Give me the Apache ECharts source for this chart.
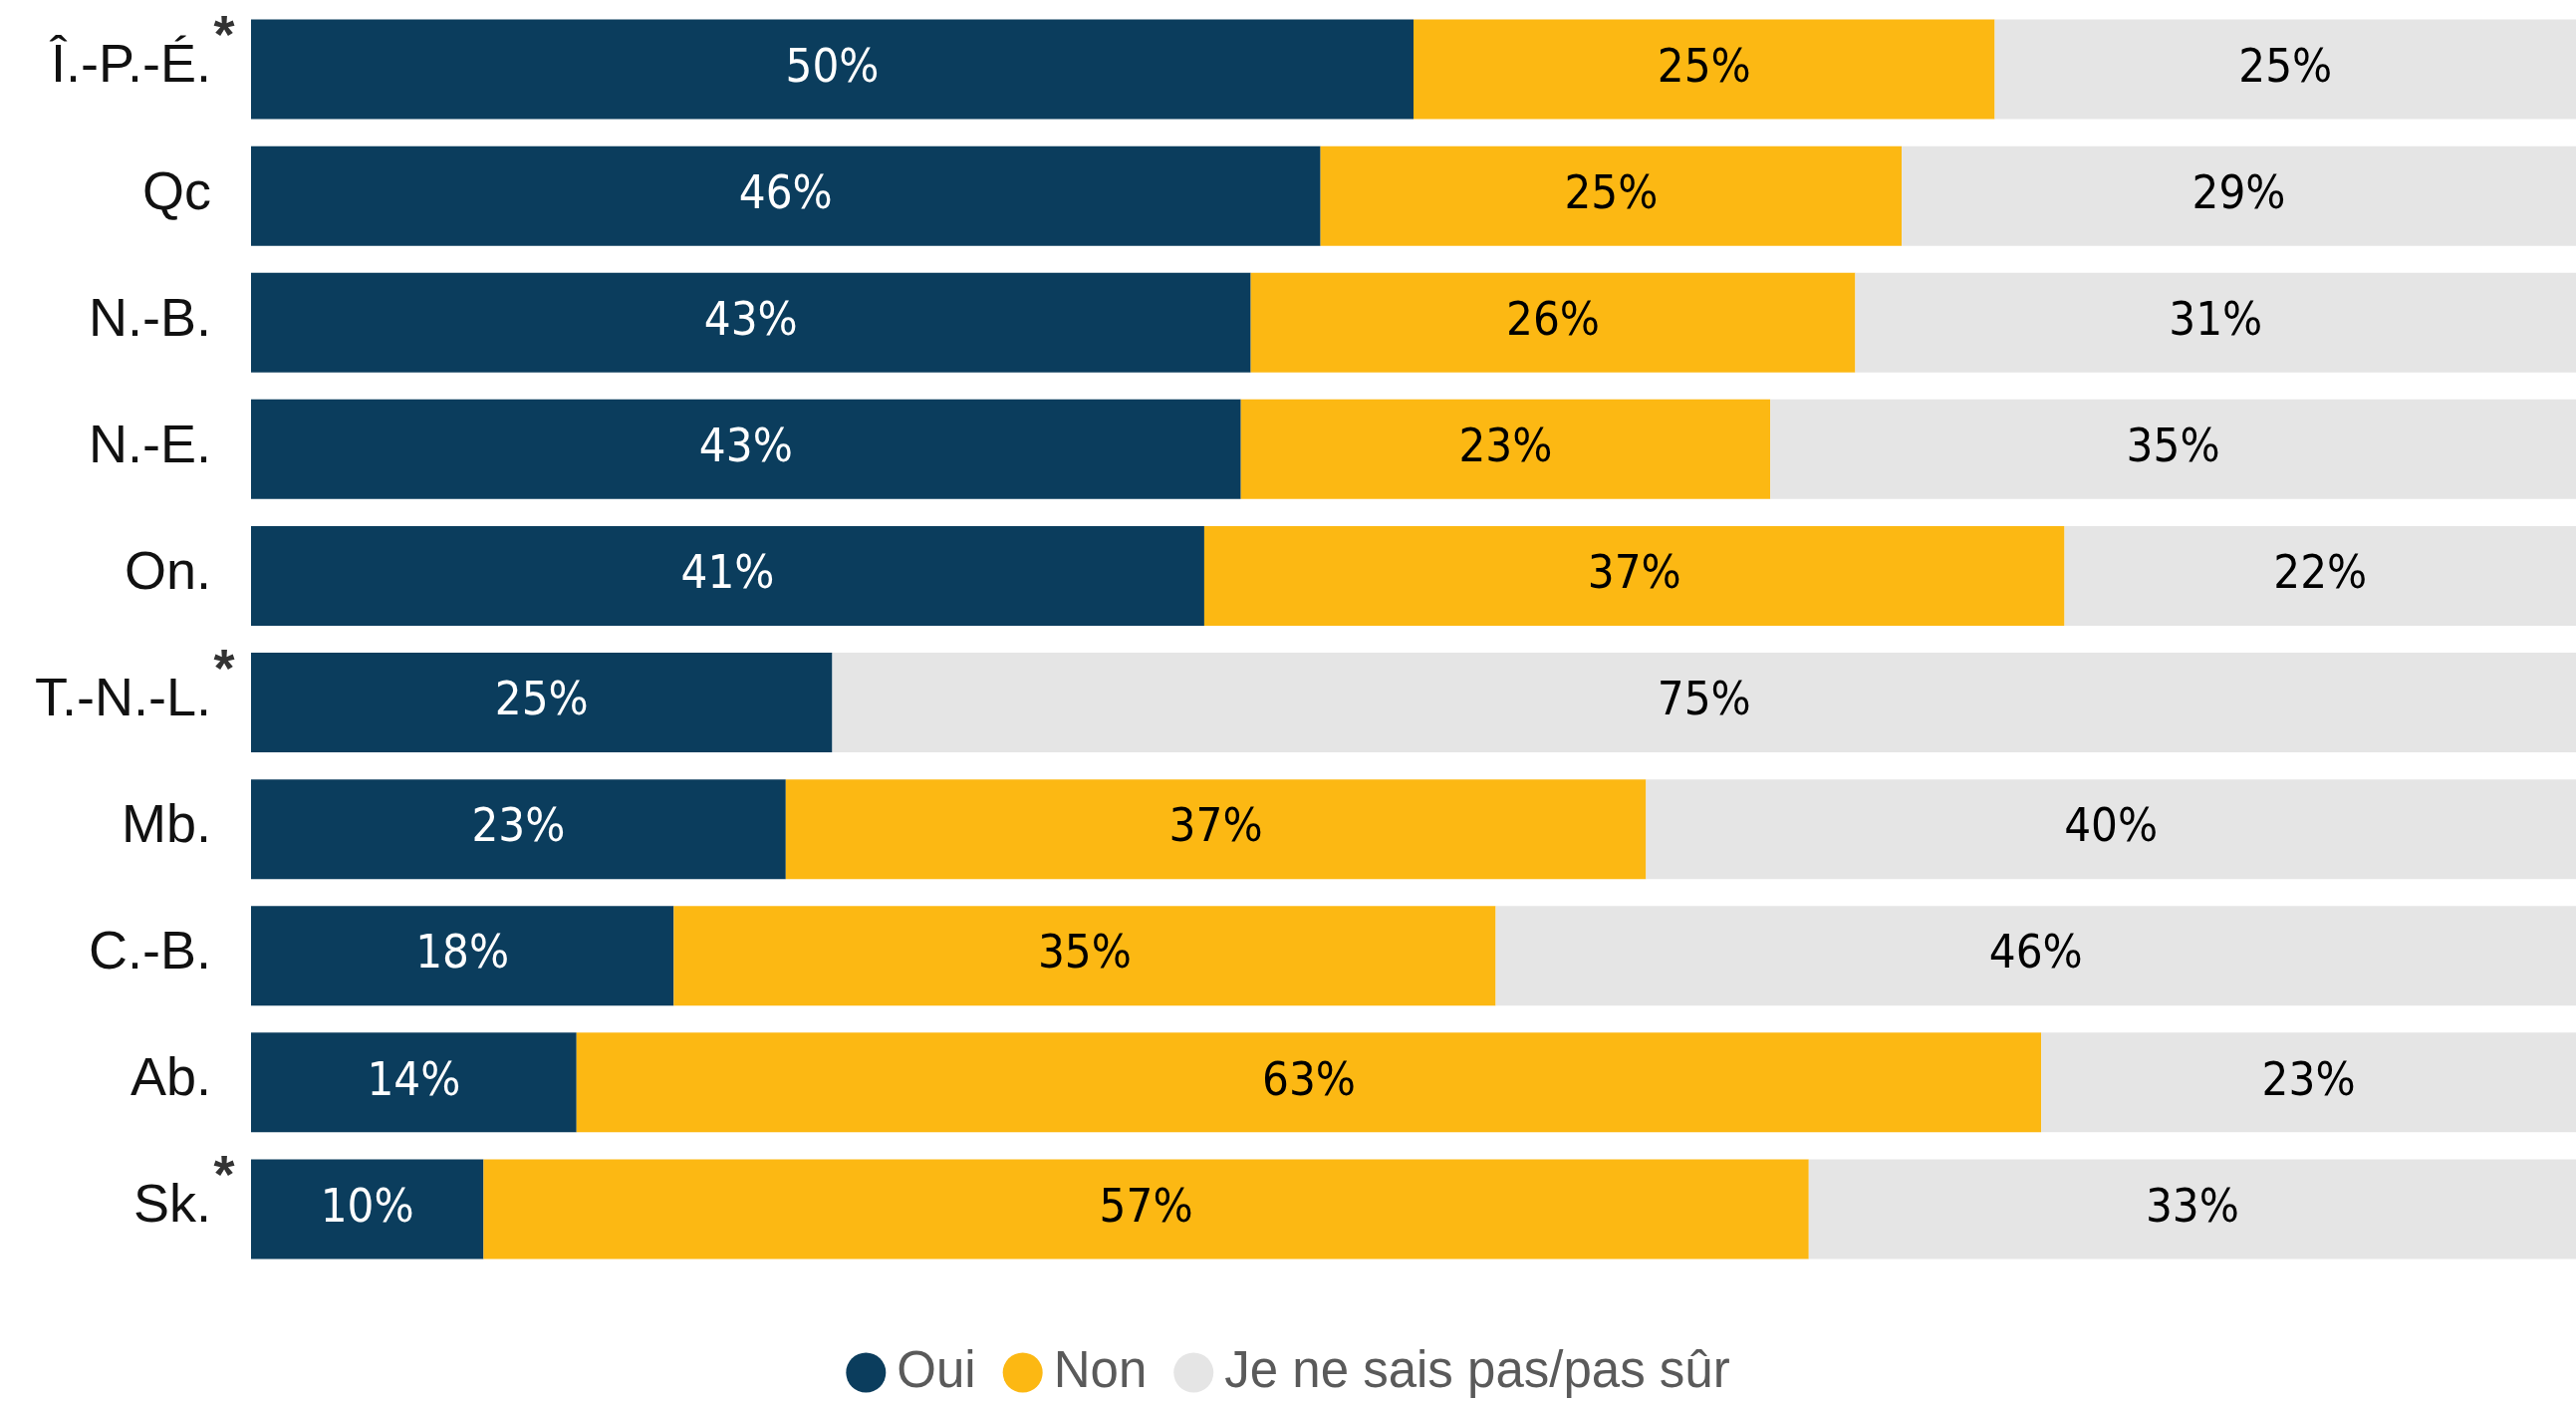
<!DOCTYPE html>
<html>
<head>
<meta charset="utf-8">
<script src="https://cdn.jsdelivr.net/npm/echarts@6/dist/echarts.min.js"></script>
<style>
  html, body { margin: 0; padding: 0; background: #fff; }
  #chart { width: 2586px; height: 1407px; }
</style>
</head>
<body>
<div id="chart"></div>
<script>
// provinces, top to bottom (* = small sample)
const provinces = ['Î.-P.-É.*', 'Qc', 'N.-B.', 'N.-E.', 'On.', 'T.-N.-L.*', 'Mb.', 'C.-B.', 'Ab.', 'Sk.*']
const oui = [50, 46, 43, 43, 41, 25, 23, 18, 14, 10]
const non = [25, 25, 26, 23, 37, 0, 37, 35, 63, 57]
const nsp = [25, 29, 31, 35, 22, 75, 40, 46, 23, 33]
const seriesNames = ['Oui', 'Non', 'Je ne sais pas/pas sûr']
const colors = ['#0b3d5d', '#fcb813', '#e5e5e5']

const chart = echarts.init(document.getElementById('chart'))

// 100% empilé : chaque ligne ramenée à son total
const totals = oui.map((v, i) => v + non[i] + nsp[i])
const makeSeries = (name, values, color, labelColor) => ({
  name: name,
  type: 'bar',
  stack: 'total',
  barWidth: 100,
  data: values.map((v, i) => ({ value: v / totals[i] * 100, raw: v })),
  itemStyle: { color: color },
  label: {
    show: true,
    position: 'inside',
    color: labelColor,
    fontFamily: '"Liberation Sans Narrow", "DejaVu Sans Condensed", sans-serif',
    fontSize: 47,
    formatter: (p) => (p.data.raw ? p.data.raw + '%' : '')
  },
  emphasis: { disabled: true }
})

const option = {
  animation: false,
  color: colors,
  legend: {
    left: 'center',
    top: 1347,
    icon: 'circle',
    itemWidth: 40,
    itemHeight: 40,
    itemGap: 27,
    textStyle: {
      fontFamily: '"Liberation Sans", Arial, sans-serif',
      fontSize: 51,
      color: '#5a5a5a',
      padding: [0, 0, 0, 6]
    },
    data: seriesNames
  },
  grid: {
    left: 252,
    right: 0,
    top: 6,
    bottom: 130
  },
  xAxis: {
    type: 'value',
    min: 0,
    max: 100,
    show: false
  },
  yAxis: {
    type: 'category',
    inverse: true,
    data: provinces,
    axisLine: { show: false },
    axisTick: { show: false },
    axisLabel: {
      interval: 0,
      margin: 14,
      formatter: (name) => {
        const star = name.endsWith('*')
        const base = star ? name.slice(0, -1) : name
        return '{n|' + base + '}{s|' + (star ? '*' : ' ') + '}'
      },
      rich: {
        n: {
          fontFamily: '"Liberation Sans", Arial, sans-serif',
          fontSize: 54,
          color: '#111',
          lineHeight: 116,
          padding: [0, 0, 4, 0]
        },
        s: {
          fontFamily: '"Liberation Sans", Arial, sans-serif',
          fontSize: 54,
          fontWeight: 'bold',
          color: '#333',
          lineHeight: 54,
          width: 26,
          align: 'left',
          verticalAlign: 'top'
        }
      }
    }
  },
  series: [
    makeSeries(seriesNames[0], oui, colors[0], '#ffffff'),
    makeSeries(seriesNames[1], non, colors[1], '#000000'),
    makeSeries(seriesNames[2], nsp, colors[2], '#000000')
  ]
}
chart.setOption(option)
</script>
</body>
</html>
